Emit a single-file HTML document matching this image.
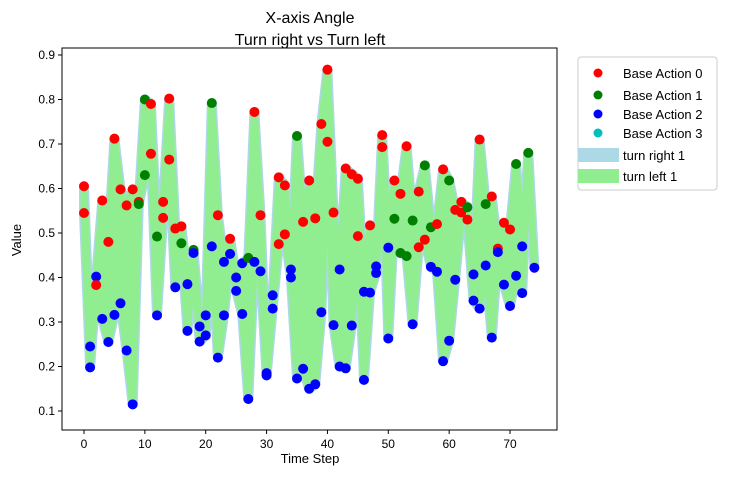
<!DOCTYPE html>
<html><head><meta charset="utf-8"><style>
body{margin:0;background:#fff;font-family:"Liberation Sans",sans-serif}
svg text{font-family:"Liberation Sans","DejaVu Sans",sans-serif;fill:#000}
</style></head><body>
<svg id="chart" width="733" height="476" viewBox="0 0 733 476" xmlns="http://www.w3.org/2000/svg">
<text x="310" y="23" font-size="16" text-anchor="middle">X-axis Angle</text>
<text x="310" y="45" font-size="16" text-anchor="middle">Turn right vs Turn left</text>
<g id="bands"></g>
<g id="dots"></g>
<rect x="62" y="48" width="495" height="382" fill="none" stroke="#000" stroke-width="1"/>
<g id="axes"></g>
<text x="310" y="463" font-size="13" text-anchor="middle">Time Step</text>
<text x="21" y="240" font-size="13" text-anchor="middle" transform="rotate(-90 21 240)">Value</text>
<g>
<rect x="578" y="57" width="139" height="133" rx="3" fill="#fff" stroke="#ccc"/>
<circle cx="598" cy="73" r="4.5" fill="#ff0000"/>
<text x="623" y="78" font-size="13">Base Action 0</text>
<circle cx="598" cy="95" r="4.5" fill="#008000"/>
<text x="623" y="100" font-size="13">Base Action 1</text>
<circle cx="598" cy="114" r="4.5" fill="#0000ff"/>
<text x="623" y="119" font-size="13">Base Action 2</text>
<circle cx="598" cy="133" r="4.5" fill="#00bfbf"/>
<text x="623" y="138" font-size="13">Base Action 3</text>
<rect x="578" y="148" width="41" height="14" fill="#add8e6"/>
<text x="623" y="160" font-size="13">turn right 1</text>
<rect x="578" y="169" width="41" height="14" fill="#90ee90"/>
<text x="623" y="181" font-size="13">turn left 1</text>
</g>
</svg>
<script>
const steps=[0,0,1,1,2,2,3,3,4,4,5,5,6,6,7,7,8,8,9,9,10,10,11,11,12,12,13,13,14,14,15,15,16,16,17,17,18,18,19,19,20,20,21,21,22,22,23,23,24,24,25,25,26,26,27,27,28,28,29,29,30,30,31,31,32,32,33,33,34,34,35,35,36,36,37,37,38,38,39,39,40,40,41,41,42,42,43,43,44,44,45,45,46,46,47,47,48,48,49,49,50,50,51,51,52,52,53,53,54,54,55,55,56,56,57,57,58,58,59,59,60,60,61,61,62,62,63,63,64,64,65,65,66,66,67,67,68,68,69,69,70,70,71,71,72,72,73,74];
const values=[0.605,0.545,0.245,0.198,0.402,0.383,0.573,0.307,0.48,0.255,0.712,0.316,0.598,0.342,0.562,0.236,0.598,0.115,0.57,0.565,0.8,0.63,0.79,0.678,0.315,0.492,0.57,0.534,0.802,0.665,0.51,0.378,0.515,0.477,0.385,0.28,0.462,0.455,0.29,0.256,0.315,0.27,0.792,0.47,0.22,0.54,0.435,0.315,0.487,0.453,0.37,0.40,0.432,0.318,0.444,0.127,0.772,0.435,0.54,0.414,0.18,0.185,0.36,0.33,0.625,0.475,0.607,0.497,0.418,0.4,0.718,0.173,0.525,0.195,0.618,0.15,0.533,0.16,0.745,0.322,0.867,0.705,0.546,0.293,0.418,0.2,0.645,0.196,0.632,0.292,0.622,0.493,0.17,0.368,0.517,0.366,0.41,0.425,0.72,0.693,0.467,0.263,0.532,0.618,0.588,0.455,0.695,0.448,0.528,0.295,0.593,0.468,0.652,0.485,0.424,0.513,0.413,0.52,0.643,0.212,0.618,0.258,0.552,0.395,0.57,0.546,0.558,0.53,0.407,0.348,0.71,0.33,0.565,0.427,0.582,0.265,0.465,0.457,0.523,0.384,0.508,0.336,0.655,0.404,0.47,0.365,0.68,0.422];
const actions=[0,0,2,2,2,0,0,2,0,2,0,2,0,2,0,2,0,2,0,1,1,1,0,0,2,1,0,0,0,0,0,2,0,1,2,2,1,2,2,2,2,2,1,2,2,0,2,2,0,2,2,2,2,2,1,2,0,2,0,2,2,2,2,2,0,0,0,0,2,2,1,2,0,2,0,2,0,2,0,2,0,0,0,2,2,2,0,2,0,2,0,0,2,2,0,2,2,2,0,0,2,2,1,0,0,1,0,1,1,2,0,0,1,0,2,1,2,0,0,2,1,2,0,2,0,0,1,0,2,2,0,2,1,2,0,2,0,2,0,2,0,2,1,2,2,2,1,2];
const xTicks=[0,10,20,30,40,50,60,70];
const yTicks=[0.1,0.2,0.3,0.4,0.5,0.6,0.7,0.8,0.9];
const actionColors=['#ff0000','#008000','#0000ff','#00bfbf'];
const NS='http://www.w3.org/2000/svg';
const xs=t=>84+t*6.086;
const ys=v=>411-(v-0.1)*445;
function mk(tag,attrs,parent){const e=document.createElementNS(NS,tag);for(const k in attrs)e.setAttribute(k,attrs[k]);parent.appendChild(e);return e;}
const lo={},hi={};
steps.forEach((t,i)=>{const v=values[i];lo[t]=lo[t]===undefined?v:Math.min(lo[t],v);hi[t]=hi[t]===undefined?v:Math.max(hi[t],v);});
const ts=Object.keys(lo).map(Number).sort((a,b)=>a-b);
function bandPath(){let p=ts.map((t,i)=>(i?'L':'M')+xs(t).toFixed(1)+','+ys(hi[t]).toFixed(1)).join('');
p+=ts.slice().reverse().map(t=>'L'+xs(t).toFixed(1)+','+ys(lo[t]).toFixed(1)).join('')+'Z';return p;}
const bands=document.getElementById('bands');
const b1=mk('path',{d:bandPath(),fill:'#add8e6',stroke:'#add8e6','stroke-width':10,'stroke-linejoin':'round'},bands);


const b2=mk('path',{d:bandPath(),fill:'#90ee90',stroke:'#90ee90','stroke-width':7,'stroke-linejoin':'round'},bands);


const dots=document.getElementById('dots');
steps.forEach((t,i)=>{const c=mk('circle',{cx:xs(t),cy:ys(values[i]),r:5,fill:actionColors[actions[i]]},dots);

});
const ax=document.getElementById('axes');
xTicks.forEach(t=>{mk('line',{x1:xs(t),x2:xs(t),y1:430,y2:434,stroke:'#000'},ax);
const tx=mk('text',{x:xs(t),y:448,'font-size':12,'text-anchor':'middle'},ax);tx.textContent=t;

});
yTicks.forEach(v=>{mk('line',{x1:58,x2:62,y1:ys(v),y2:ys(v),stroke:'#000'},ax);
const tx=mk('text',{x:55,y:ys(v)+4,'font-size':12,'text-anchor':'end'},ax);tx.textContent=v.toFixed(1);

});
</script>
</body></html>
